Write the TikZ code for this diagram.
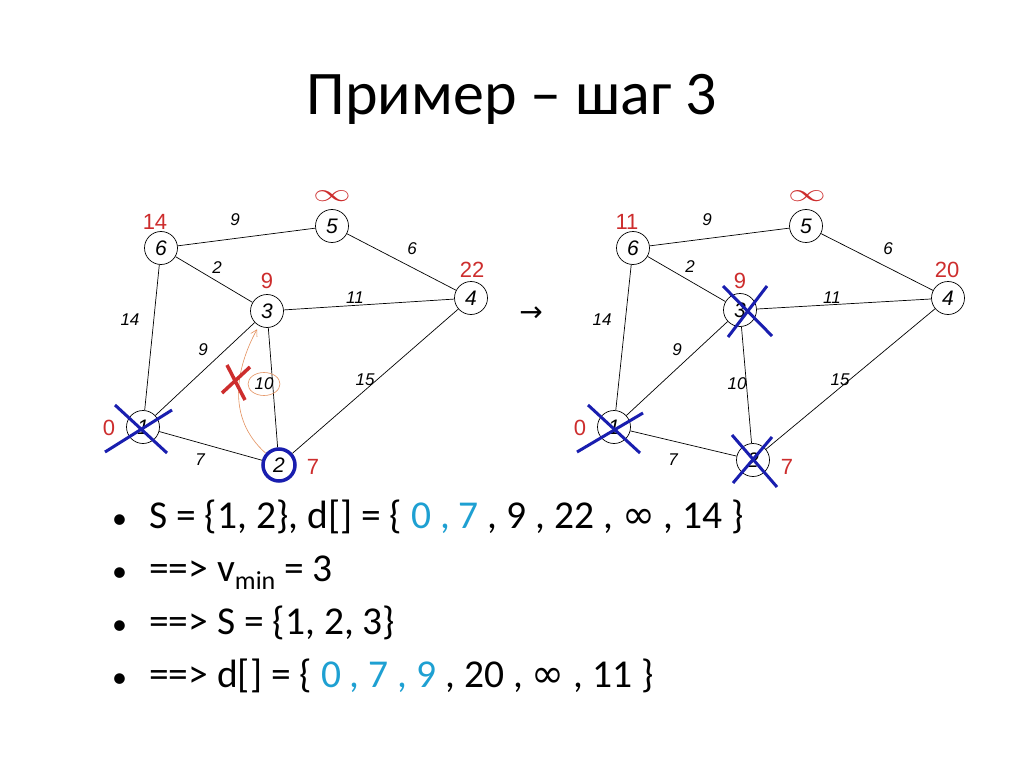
\documentclass[tikz,border=0pt]{standalone}
\usepackage{fontspec}
\setmainfont{Carlito}
\newfontfamily\graphfont{Liberation Sans}
\newfontfamily\symfont{DejaVu Sans}
\usetikzlibrary{shapes.geometric}
\usetikzlibrary{arrows.meta}
\definecolor{distred}{RGB}{205,45,45}
\definecolor{crossblue}{RGB}{25,30,175}
\definecolor{seencyan}{RGB}{30,160,210}
\definecolor{tryorange}{RGB}{228,145,95}

\begin{document}
\begin{tikzpicture}[
    x=1pt, y=-1pt,
    vertex/.style={circle,draw,line width=0.7pt,minimum size=33pt,inner sep=0pt,font=\graphfont\itshape\fontsize{21}{21}\selectfont},
    weight/.style={inner sep=0pt,font=\graphfont\itshape\fontsize{17}{17}\selectfont},
    dist/.style={inner sep=0pt,text=distred,font=\graphfont\fontsize{22}{22}\selectfont},
    infty/.style={inner sep=0pt,text=distred,font=\fontsize{30}{30}\selectfont},
    edge/.style={line width=0.7pt},
    cross/.style={draw=crossblue,line width=3pt},
    listline/.style={anchor=base west,inner sep=0pt,font=\fontsize{39.5}{39.5}\selectfont}
]
\fill[white] (0,0) rectangle (1024,767);
\useasboundingbox (0,0) rectangle (1024,767);

\node[anchor=base,font=\fontsize{62}{62}\selectfont] (title) at (512,115) {Пример – шаг 3};

% left graph
\node[vertex] (a6) at (161,248) {6};
\node[vertex] (a5) at (332,226) {5};
\node[vertex] (a3) at (267,311) {3};
\node[vertex] (a4) at (471,298) {4};
\node[vertex] (a1) at (143,427) {1};
\node[vertex,draw=crossblue,line width=3.5pt,minimum size=32pt] (a2) at (279,465) {2};
\draw[edge] (a6) -- (a5);
\draw[edge] (a5) -- (a4);
\draw[edge] (a6) -- (a3);
\draw[edge] (a3) -- (a4);
\draw[edge] (a6) -- (a1);
\draw[edge] (a1) -- (a3);
\draw[edge] (a3) -- (a2);
\draw[edge] (a1) -- (a2);
\draw[edge] (a2) -- (a4);
\node[weight] (aw65) at (235,220) {9};
\node[weight] (aw54) at (412,249) {6};
\node[weight] (aw63) at (217,268) {2};
\node[weight] (aw34) at (355,298) {11};
\node[weight] (aw61) at (130,320) {14};
\node[weight] (aw13) at (203,350) {9};
\node[weight] (aw24) at (365,380) {15};
\node[weight] (aw12) at (200,460) {7};
\node[weight,ellipse,draw=tryorange,line width=0.6pt,inner sep=1pt,minimum width=32pt,minimum height=23pt] (aw32) at (264,384) {10};
\node[dist] (ad6) at (155,222) {14};
\node[infty] (ad5) at (332,196) {\scalebox{1.5}[1]{$\infty$}};
\node[dist] (ad3) at (267,281) {9};
\node[dist] (ad4) at (472,270) {22};
\node[dist] (ad1) at (109,428) {0};
\node[dist] (ad2) at (313,467) {7};
\draw[tryorange,line width=0.6pt,-{Straight Barb[length=6pt,width=7pt]},shorten >=4pt] (a2) .. controls (226,418) and (236,368) .. (a3);
\draw[distred,line width=3.5pt] (222,393) -- (250,367) (227,365) -- (245,400);
\draw[cross] (a1) ++(-38,25) -- ++(67,-42);
\draw[cross] (a1) ++(-28,-22) -- ++(52,48);

\node[font=\symfont\fontsize{28}{28}\selectfont] (step) at (531,314) {→};

% right graph
\node[vertex] (b6) at (633,248) {6};
\node[vertex] (b5) at (806,226) {5};
\node[vertex] (b3) at (740,310) {3};
\node[vertex] (b4) at (948,298) {4};
\node[vertex] (b1) at (614,427) {1};
\node[vertex] (b2) at (753,460) {2};
\draw[edge] (b6) -- (b5);
\draw[edge] (b5) -- (b4);
\draw[edge] (b6) -- (b3);
\draw[edge] (b3) -- (b4);
\draw[edge] (b6) -- (b1);
\draw[edge] (b1) -- (b3);
\draw[edge] (b3) -- (b2);
\draw[edge] (b1) -- (b2);
\draw[edge] (b2) -- (b4);
\node[weight] (bw65) at (707,220) {9};
\node[weight] (bw54) at (888,249) {6};
\node[weight] (bw63) at (690,267) {2};
\node[weight] (bw34) at (832,298) {11};
\node[weight] (bw61) at (602,320) {14};
\node[weight] (bw13) at (677,350) {9};
\node[weight] (bw24) at (840,380) {15};
\node[weight] (bw12) at (673,460) {7};
\node[weight] (bw32) at (737,384) {10};
\node[dist] (bd6) at (627,222) {11};
\node[infty] (bd5) at (807,196) {\scalebox{1.5}[1]{$\infty$}};
\node[dist] (bd3) at (740,281) {9};
\node[dist] (bd4) at (947,270) {20};
\node[dist] (bd1) at (580,428) {0};
\node[dist] (bd2) at (787,467) {7};
\draw[cross] (b1) ++(-37,25) -- ++(66,-39);
\draw[cross] (b1) ++(-26,-22) -- ++(52,48);
\draw[cross] (b3) ++(-12,27) -- ++(39,-51);
\draw[cross] (b3) ++(-17,-24) -- ++(49,50);
\draw[cross] (b2) ++(-20,23) -- ++(39,-46);
\draw[cross] (b2) ++(-21,-25) -- ++(45,52);

% list
\node[listline] (l1) at (112,528) {\makebox[37pt][l]{\fontsize{30}{30}\selectfont •}S = \{1, 2\}, d[] = \{ \textcolor{seencyan}{0 , 7} , 9 , 22 , {\symfont ∞} , 14 \}};
\node[listline] (l2) at (112,581) {\makebox[37pt][l]{\fontsize{30}{30}\selectfont •}==> v\raisebox{-8pt}{\fontsize{26}{26}\selectfont min} = 3};
\node[listline] (l3) at (112,634) {\makebox[37pt][l]{\fontsize{30}{30}\selectfont •}==> S = \{1, 2, 3\}};
\node[listline] (l4) at (112,687) {\makebox[37pt][l]{\fontsize{30}{30}\selectfont •}==> d[] = \{ \textcolor{seencyan}{0 , 7 , 9} , 20 , {\symfont ∞} , 11 \}};
\end{tikzpicture}
\end{document}
